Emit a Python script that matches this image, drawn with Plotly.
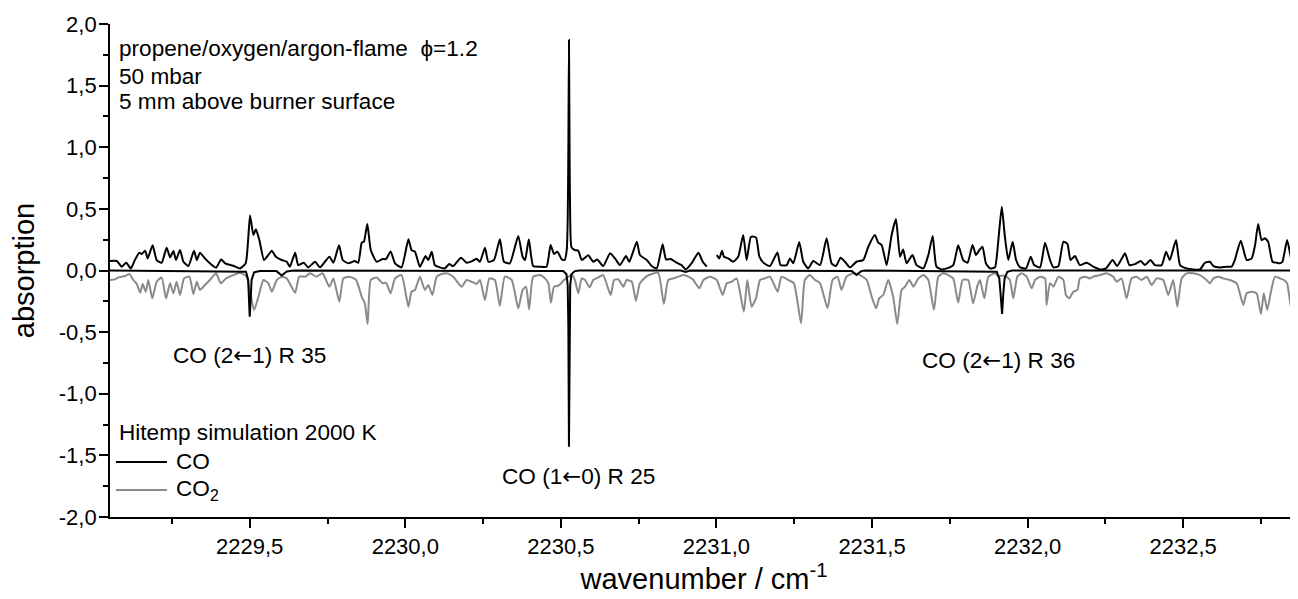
import plotly.graph_objects as go

# ---------------- data ----------------
# measured spectrum (black, upper trace); None marks the gap in the record
measured_points = [
    (2229.051,0.077),(2229.073,0.077),(2229.089,0.031),(2229.103,0.063),(2229.118,0.017),
    (2229.131,0.085),(2229.145,0.144),(2229.153,0.134),(2229.164,0.161),(2229.172,0.098),
    (2229.188,0.204),(2229.201,0.085),(2229.217,0.063),(2229.233,0.185),(2229.244,0.107),
    (2229.255,0.158),(2229.263,0.085),(2229.276,0.166),(2229.287,0.071),(2229.303,0.036),
    (2229.321,0.161),(2229.330,0.085),(2229.340,0.144),(2229.356,0.098),(2229.372,0.058),
    (2229.392,0.023),(2229.408,0.090),(2229.421,0.058),(2229.447,0.039),(2229.469,0.017),
    (2229.487,0.058),(2229.495,0.250),(2229.501,0.447),(2229.512,0.288),(2229.520,0.334),
    (2229.531,0.247),(2229.546,0.085),(2229.560,0.126),(2229.571,0.161),(2229.584,0.112),
    (2229.603,0.085),(2229.619,0.071),(2229.629,0.031),(2229.646,0.144),(2229.656,0.044),
    (2229.674,0.063),(2229.688,0.025),(2229.710,0.071),(2229.726,0.025),(2229.756,0.112),
    (2229.769,0.063),(2229.787,0.204),(2229.799,0.085),(2229.817,0.058),(2229.838,0.077),
    (2229.849,0.063),(2229.860,0.226),(2229.867,0.234),(2229.878,0.377),(2229.889,0.166),
    (2229.908,0.071),(2229.927,0.093),(2229.938,0.093),(2229.953,0.155),(2229.967,0.058),
    (2229.988,0.025),(2230.010,0.253),(2230.020,0.166),(2230.031,0.153),(2230.047,0.031),
    (2230.065,0.117),(2230.074,0.085),(2230.085,0.153),(2230.095,0.044),(2230.111,0.025),
    (2230.127,0.017),(2230.141,0.052),(2230.154,0.036),(2230.179,0.104),(2230.197,0.063),
    (2230.213,0.074),(2230.229,0.096),(2230.240,0.071),(2230.256,0.185),(2230.267,0.071),
    (2230.285,0.085),(2230.304,0.253),(2230.317,0.071),(2230.336,0.058),(2230.363,0.280),
    (2230.377,0.112),(2230.385,0.085),(2230.397,0.253),(2230.411,0.036),(2230.433,0.031),
    (2230.454,0.030),(2230.467,0.207),(2230.478,0.134),(2230.489,0.153),(2230.503,0.090),
    (2230.512,0.085),(2230.519,0.170),(2230.522,0.420),(2230.524,0.950),(2230.526,1.870),
    (2230.528,0.950),(2230.530,0.420),(2230.534,0.190),(2230.545,0.166),(2230.556,0.161),
    (2230.567,0.085),(2230.588,0.123),(2230.604,0.071),(2230.617,0.090),(2230.636,0.036),
    (2230.658,0.139),(2230.674,0.098),(2230.690,0.044),(2230.709,0.117),(2230.720,0.071),
    (2230.744,0.234),(2230.754,0.126),(2230.776,0.085),(2230.792,0.036),(2230.808,0.017),
    (2230.827,0.212),(2230.838,0.090),(2230.853,0.093),(2230.872,0.063),(2230.888,0.044),
    (2230.901,0.009),(2230.920,0.058),(2230.942,0.144),(2230.956,0.071),(2230.969,0.031),
    (2230.985,None),
    (2231.001,0.126),(2231.009,0.098),(2231.018,0.161),(2231.024,0.112),(2231.038,0.098),
    (2231.054,0.071),(2231.070,0.112),(2231.086,0.288),(2231.097,0.085),(2231.111,0.274),
    (2231.127,0.269),(2231.138,0.112),(2231.153,0.058),(2231.172,0.036),(2231.196,0.147),
    (2231.206,0.044),(2231.226,0.044),(2231.236,0.098),(2231.247,0.058),(2231.266,0.231),
    (2231.279,0.071),(2231.295,0.017),(2231.311,0.077),(2231.333,0.044),(2231.354,0.261),
    (2231.370,0.058),(2231.384,0.036),(2231.399,0.104),(2231.413,0.071),(2231.429,0.025),
    (2231.450,0.071),(2231.472,0.085),(2231.488,0.193),(2231.509,0.288),(2231.520,0.226),
    (2231.531,0.207),(2231.547,0.044),(2231.563,0.288),(2231.577,0.415),(2231.590,0.112),
    (2231.600,0.171),(2231.611,0.058),(2231.630,0.126),(2231.643,0.044),(2231.665,0.017),
    (2231.681,0.126),(2231.695,0.280),(2231.707,0.031),(2231.724,0.009),(2231.740,0.017),
    (2231.761,0.044),(2231.777,0.204),(2231.793,0.085),(2231.807,0.063),(2231.823,0.207),
    (2231.834,0.126),(2231.845,0.166),(2231.855,0.193),(2231.866,0.058),(2231.879,0.017),
    (2231.895,0.025),(2231.906,0.247),(2231.917,0.517),(2231.927,0.274),(2231.938,0.085),
    (2231.952,0.234),(2231.963,0.085),(2231.976,0.025),(2231.995,0.017),(2232.010,0.112),
    (2232.021,0.044),(2232.040,0.025),(2232.056,0.226),(2232.072,0.085),(2232.083,0.025),
    (2232.099,0.036),(2232.115,0.234),(2232.128,0.215),(2232.138,0.085),(2232.152,0.117),
    (2232.168,0.044),(2232.190,0.063),(2232.211,0.031),(2232.233,0.009),(2232.252,0.017),
    (2232.273,0.085),(2232.288,0.036),(2232.313,0.139),(2232.327,0.044),(2232.345,0.052),
    (2232.364,0.077),(2232.377,0.044),(2232.395,0.085),(2232.409,0.044),(2232.431,0.044),
    (2232.445,0.153),(2232.457,0.085),(2232.477,0.247),(2232.490,0.044),(2232.511,0.017),
    (2232.532,0.009),(2232.554,0.009),(2232.570,0.063),(2232.586,0.071),(2232.597,0.036),
    (2232.618,0.025),(2232.640,0.031),(2232.656,0.031),(2232.666,0.085),(2232.685,0.242),
    (2232.704,0.085),(2232.720,0.098),(2232.731,0.207),(2232.741,0.377),(2232.752,0.247),
    (2232.763,0.261),(2232.773,0.234),(2232.787,0.071),(2232.800,0.063),(2232.811,0.058),
    (2232.819,0.071),(2232.834,0.247),(2232.848,0.085),(2232.859,0.025),(2232.869,0.025),
]

# HITEMP simulation, CO (black, plotted negative)
co_sim_points = [
    (2229.051,0.0),(2229.488,-0.010),(2229.495,-0.077),(2229.498,-0.240),(2229.500,-0.375),
    (2229.503,-0.240),(2229.506,-0.077),(2229.514,-0.015),(2229.533,-0.004),(2229.586,-0.005),
    (2229.603,-0.040),(2229.619,-0.008),(2229.640,0.0),(2230.508,-0.004),(2230.518,-0.030),
    (2230.522,-0.120),(2230.524,-0.450),(2230.526,-1.430),(2230.528,-0.450),(2230.530,-0.120),
    (2230.534,-0.030),(2230.545,-0.005),(2230.560,0.0),(2230.885,0.0),(2230.901,-0.012),
    (2230.915,0.0),(2231.435,-0.005),(2231.450,-0.037),(2231.465,-0.005),(2231.480,0.0),
    (2231.901,-0.010),(2231.909,-0.064),(2231.913,-0.185),(2231.918,-0.353),(2231.922,-0.185),
    (2231.926,-0.064),(2231.935,-0.010),(2231.950,0.0),(2232.869,0.0),
]

# HITEMP simulation, CO2 (grey, plotted negative)
co2_sim_points = [
    (2229.051,-0.077),(2229.067,-0.072),(2229.078,-0.056),(2229.099,-0.045),(2229.113,-0.029),
    (2229.126,-0.077),(2229.137,-0.110),(2229.148,-0.180),(2229.156,-0.110),(2229.166,-0.172),
    (2229.174,-0.077),(2229.187,-0.226),(2229.201,-0.091),(2229.217,-0.056),(2229.231,-0.226),
    (2229.244,-0.104),(2229.255,-0.185),(2229.265,-0.091),(2229.276,-0.199),(2229.289,-0.064),
    (2229.306,-0.050),(2229.319,-0.191),(2229.330,-0.091),(2229.340,-0.158),(2229.356,-0.118),
    (2229.372,-0.077),(2229.392,-0.023),(2229.407,-0.104),(2229.424,-0.064),(2229.447,-0.037),
    (2229.469,-0.018),(2229.490,-0.050),(2229.514,-0.321),(2229.528,-0.213),(2229.544,-0.077),
    (2229.560,-0.104),(2229.571,-0.172),(2229.587,-0.077),(2229.603,-0.050),(2229.619,-0.064),
    (2229.646,-0.180),(2229.659,-0.050),(2229.678,-0.050),(2229.694,-0.023),(2229.715,-0.050),
    (2229.734,-0.023),(2229.756,-0.131),(2229.769,-0.064),(2229.788,-0.253),(2229.801,-0.064),
    (2229.820,-0.050),(2229.842,-0.077),(2229.860,-0.213),(2229.870,-0.267),(2229.879,-0.434),
    (2229.889,-0.077),(2229.908,-0.056),(2229.927,-0.104),(2229.938,-0.099),(2229.953,-0.185),
    (2229.967,-0.064),(2229.988,-0.037),(2230.010,-0.294),(2230.020,-0.172),(2230.031,-0.158),
    (2230.047,-0.050),(2230.063,-0.158),(2230.074,-0.118),(2230.087,-0.199),(2230.101,-0.050),
    (2230.117,-0.029),(2230.133,-0.023),(2230.154,-0.050),(2230.181,-0.131),(2230.197,-0.077),
    (2230.213,-0.091),(2230.229,-0.110),(2230.240,-0.077),(2230.256,-0.240),(2230.270,-0.064),
    (2230.288,-0.077),(2230.304,-0.288),(2230.320,-0.050),(2230.342,-0.077),(2230.363,-0.307),
    (2230.377,-0.158),(2230.388,-0.131),(2230.398,-0.315),(2230.411,-0.050),(2230.433,-0.037),
    (2230.449,-0.064),(2230.460,-0.104),(2230.468,-0.261),(2230.478,-0.131),(2230.489,-0.126),
    (2230.499,-0.110),(2230.510,-0.077),(2230.535,-0.037),(2230.545,-0.077),(2230.556,-0.185),
    (2230.567,-0.064),(2230.578,-0.077),(2230.592,-0.137),(2230.604,-0.077),(2230.620,-0.056),
    (2230.636,-0.037),(2230.660,-0.199),(2230.671,-0.077),(2230.685,-0.072),(2230.701,-0.131),
    (2230.711,-0.077),(2230.728,-0.091),(2230.741,-0.245),(2230.754,-0.104),(2230.774,-0.050),
    (2230.792,-0.029),(2230.813,-0.018),(2230.831,-0.272),(2230.845,-0.077),(2230.861,-0.064),
    (2230.877,-0.050),(2230.894,-0.037),(2230.910,-0.050),(2230.926,-0.077),(2230.945,-0.145),
    (2230.958,-0.077),(2230.979,-0.050),(2231.001,-0.077),(2231.020,-0.199),(2231.033,-0.104),
    (2231.049,-0.091),(2231.065,-0.064),(2231.088,-0.334),(2231.099,-0.077),(2231.113,-0.294),
    (2231.127,-0.226),(2231.140,-0.077),(2231.156,-0.064),(2231.172,-0.050),(2231.197,-0.172),
    (2231.209,-0.050),(2231.231,-0.077),(2231.249,-0.104),(2231.272,-0.429),(2231.284,-0.077),
    (2231.300,-0.037),(2231.317,-0.077),(2231.333,-0.104),(2231.357,-0.307),(2231.373,-0.077),
    (2231.389,-0.050),(2231.402,-0.158),(2231.418,-0.050),(2231.440,-0.023),(2231.461,-0.037),
    (2231.483,-0.077),(2231.499,-0.213),(2231.513,-0.307),(2231.523,-0.226),(2231.536,-0.199),
    (2231.552,-0.077),(2231.568,-0.213),(2231.581,-0.434),(2231.595,-0.158),(2231.606,-0.131),
    (2231.620,-0.077),(2231.633,-0.131),(2231.649,-0.064),(2231.665,-0.037),(2231.681,-0.077),
    (2231.699,-0.321),(2231.713,-0.050),(2231.729,-0.023),(2231.745,-0.037),(2231.761,-0.064),
    (2231.777,-0.261),(2231.791,-0.077),(2231.809,-0.077),(2231.825,-0.267),(2231.838,-0.131),
    (2231.847,-0.077),(2231.861,-0.226),(2231.874,-0.050),(2231.895,-0.023),(2231.906,-0.050),
    (2231.918,-0.040),(2231.931,-0.050),(2231.943,-0.077),(2231.954,-0.226),(2231.967,-0.050),
    (2231.981,-0.023),(2231.997,-0.050),(2232.013,-0.145),(2232.024,-0.077),(2232.040,-0.050),
    (2232.056,-0.064),(2232.061,-0.280),(2232.072,-0.104),(2232.083,-0.131),(2232.099,-0.050),
    (2232.115,-0.077),(2232.123,-0.199),(2232.134,-0.226),(2232.147,-0.172),(2232.160,-0.158),
    (2232.168,-0.064),(2232.184,-0.050),(2232.200,-0.064),(2232.216,-0.045),(2232.233,-0.037),
    (2232.254,-0.023),(2232.275,-0.050),(2232.286,-0.091),(2232.302,-0.064),(2232.318,-0.226),
    (2232.334,-0.064),(2232.350,-0.050),(2232.366,-0.077),(2232.383,-0.050),(2232.399,-0.118),
    (2232.415,-0.064),(2232.436,-0.077),(2232.452,-0.199),(2232.468,-0.077),(2232.481,-0.294),
    (2232.495,-0.064),(2232.511,-0.023),(2232.532,-0.023),(2232.554,-0.037),(2232.575,-0.077),
    (2232.586,-0.104),(2232.597,-0.064),(2232.613,-0.050),(2232.629,-0.064),(2232.650,-0.077),
    (2232.672,-0.104),(2232.693,-0.280),(2232.704,-0.185),(2232.720,-0.172),(2232.736,-0.185),
    (2232.750,-0.353),(2232.759,-0.185),(2232.770,-0.321),(2232.781,-0.185),(2232.795,-0.050),
    (2232.811,-0.064),(2232.824,-0.077),(2232.834,-0.104),(2232.848,-0.321),(2232.859,-0.077),
    (2232.869,-0.077),
]

x_tickvals = [2229.5, 2230.0, 2230.5, 2231.0, 2231.5, 2232.0, 2232.5]
x_ticktext = ["2229,5", "2230,0", "2230,5", "2231,0", "2231,5", "2232,0", "2232,5"]
x_minorvals = [2229.25, 2229.75, 2230.25, 2230.75, 2231.25, 2231.75, 2232.25, 2232.75]
y_tickvals = [-2.0, -1.5, -1.0, -0.5, 0.0, 0.5, 1.0, 1.5, 2.0]
y_ticktext = ["-2,0", "-1,5", "-1,0", "-0,5", "0,0", "0,5", "1,0", "1,5", "2,0"]
y_minorvals = [-1.75, -1.25, -0.75, -0.25, 0.25, 0.75, 1.25, 1.75]
x_range = [2229.051, 2232.869]
y_range = [-2.0, 2.0]

# ---------------- figure ----------------
FONT = "Liberation Sans, Arial, Helvetica, sans-serif"
GREY = "#8a8a8a"

def split(points):
    return [p[0] for p in points], [p[1] for p in points]

fig = go.Figure()
cx, cy = split(co2_sim_points)
fig.add_trace(go.Scatter(x=cx, y=cy, mode="lines", name="CO<sub>2</sub>",
                         line=dict(color=GREY, width=2, shape="spline", smoothing=0.5),
                         showlegend=False))
ox, oy = split(co_sim_points)
fig.add_trace(go.Scatter(x=ox, y=oy, mode="lines", name="CO",
                         line=dict(color="black", width=2), showlegend=False))
mx, my = split(measured_points)
fig.add_trace(go.Scatter(x=mx, y=my, mode="lines", name="measured", connectgaps=False,
                         line=dict(color="black", width=2, shape="spline", smoothing=0.5),
                         showlegend=False))

axis_common = dict(showgrid=False, zeroline=False, showline=True, linecolor="black",
                   linewidth=1.8, tickcolor="black", tickwidth=1.8, ticklen=9,
                   tickfont=dict(family=FONT, size=22, color="black"))

# the page adds an 8 px body margin, so the figure is 8 px smaller on each axis
fig.update_layout(
    width=1290, height=591,
    margin=dict(l=102, r=0, t=16, b=82),
    paper_bgcolor="white", plot_bgcolor="white",
    font=dict(family=FONT, color="black"),
    xaxis=dict(range=x_range, tickmode="array", tickvals=x_tickvals, ticktext=x_ticktext,
               ticks="outside",
               minor=dict(tickmode="array", tickvals=x_minorvals, ticks="outside",
                          ticklen=5, tickwidth=1.8, tickcolor="black"),
               title=dict(text="wavenumber / cm<sup>-1</sup>", standoff=10,
                          font=dict(family=FONT, size=29, color="black")),
               **axis_common),
    xaxis2=dict(range=x_range, overlaying="x", side="top", matches="x",
                tickmode="array", tickvals=x_tickvals, showticklabels=False,
                ticks="inside",
                minor=dict(tickmode="array", tickvals=x_minorvals, ticks="inside",
                           ticklen=5, tickwidth=1.8, tickcolor="black"),
                **axis_common),
    yaxis=dict(range=y_range, tickmode="array", tickvals=y_tickvals, ticktext=y_ticktext,
               ticks="outside", ticklabelstandoff=-2,
               minor=dict(tickmode="array", tickvals=y_minorvals, ticks="outside",
                          ticklen=5, tickwidth=1.8, tickcolor="black"),
               title=dict(text="absorption", standoff=18,
                          font=dict(family=FONT, size=29, color="black")),
               **axis_common),
)

TS = 22.6
ARROW = '<span style="font-family:DejaVu Sans">\u2190</span>'
def note(text, x, y, xanchor="left"):
    fig.add_annotation(text=text, x=x, y=y, xref="paper", yref="paper",
                       xanchor=xanchor, yanchor="middle", showarrow=False,
                       font=dict(family=FONT, size=TS, color="black"))

note("propene/oxygen/argon-flame  \u03d5=1.2", 0.0059, 0.9513)
note("50 mbar", 0.0059, 0.8945)
note("5 mm above burner surface", 0.0059, 0.8418)
note("CO (2" + ARROW + "1) R 35", 0.1178, 0.3286, "center")
note("CO (1" + ARROW + "0) R 25", 0.394, 0.0832, "center")
note("CO (2" + ARROW + "1) R 36", 0.7475, 0.3185, "center")
note("Hitemp simulation 2000 K", 0.0063, 0.1704)
note("CO", 0.0539, 0.1116)
note("CO<sub>2</sub>", 0.0539, 0.0548)

# legend key lines
fig.add_shape(type="line", xref="paper", yref="paper", x0=0.005, x1=0.048,
              y0=0.1116, y1=0.1116, line=dict(color="black", width=2))
fig.add_shape(type="line", xref="paper", yref="paper", x0=0.005, x1=0.048,
              y0=0.0548, y1=0.0548, line=dict(color=GREY, width=2))

fig.write_html("out.html")
